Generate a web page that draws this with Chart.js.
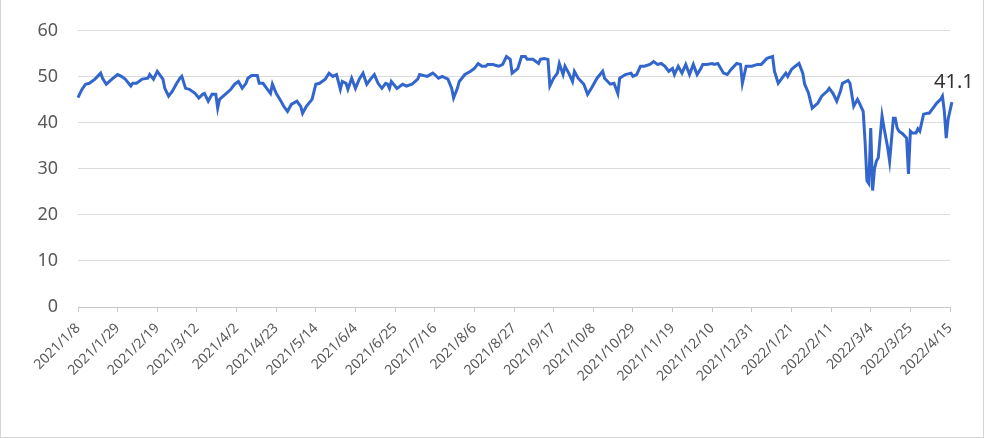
<!DOCTYPE html>
<html>
<head>
<meta charset="utf-8">
<script src="https://cdn.jsdelivr.net/npm/chart.js@4.4.1/dist/chart.umd.min.js"></script>
<style>
  html, body { margin: 0; padding: 0; background: #fff; }
  #wrap { position: relative; width: 984px; height: 438px; }
  #frame { position: absolute; left: 0; top: 0; width: 984px; height: 438px; box-sizing: border-box;
           border: 1px solid #d4d4d4; border-top: none; pointer-events: none; }
</style>
</head>
<body>
<div id="wrap">
  <canvas id="chart" width="984" height="438"></canvas>
  <div id="frame"></div>
</div>
<script>
// x tick labels, one every 3 weeks
const tickLabels = ["2021/1/8", "2021/1/29", "2021/2/19", "2021/3/12", "2021/4/2", "2021/4/23",
    "2021/5/14", "2021/6/4", "2021/6/25", "2021/7/16", "2021/8/6", "2021/8/27", "2021/9/17",
    "2021/10/8", "2021/10/29", "2021/11/19", "2021/12/10", "2021/12/31", "2022/1/21",
    "2022/2/11", "2022/3/4", "2022/3/25", "2022/4/15"];
const tickStep = 21; // days between labels

// days since 2021/1/8
const days = [0, 2, 4, 6, 9, 12, 13, 15, 18, 21, 23, 25, 28, 29, 31, 34, 37, 38, 40, 42, 45, 46, 48, 50,
    52, 54, 55, 57, 59, 62, 64, 66, 67, 69, 71, 73, 74, 75, 78, 81, 83, 85, 87, 89, 90, 92, 95, 96, 98,
    100, 102, 103, 105, 107, 109, 111, 113, 116, 118, 119, 121, 124, 126, 128, 131, 133, 135, 137, 139,
    140, 142, 143, 145, 147, 149, 151, 153, 155, 157, 159, 161, 163, 164, 165, 166, 169, 172, 174, 177,
    180, 181, 185, 188, 189, 191, 193, 196, 198, 199, 201, 202, 205, 208, 210, 212, 214, 216, 217, 220,
    221, 223, 225, 227, 229, 230, 233, 235, 237, 238, 241, 244, 245, 247, 249, 250, 252, 254, 255, 257,
    258, 260, 262, 263, 265, 268, 270, 272, 275, 278, 279, 282, 284, 286, 287, 290, 293, 294, 296, 298,
    300, 303, 305, 307, 309, 311, 313, 315, 316, 318, 320, 322, 324, 326, 328, 330, 331, 333, 336, 337,
    339, 342, 344, 346, 349, 351, 352, 354, 357, 360, 362, 365, 368, 369, 371, 373, 375, 376, 378, 380,
    382, 384, 385, 387, 389, 392, 394, 397, 398, 400, 402, 404, 405, 408, 409, 411, 413, 414, 416, 417,
    418, 419, 420, 421, 422, 423, 424, 426, 427, 429, 430, 432, 433, 434, 435, 437, 439, 440, 441, 442,
    444, 445, 446, 448, 450, 451, 453, 455, 457, 458, 459, 460, 461, 463];

const values = [45.5, 47.2, 48.4, 48.6, 49.5, 50.8, 49.7, 48.4, 49.5, 50.5, 50.1, 49.5, 48.0, 48.6, 48.6,
    49.5, 49.7, 50.5, 49.5, 51.2, 49.5, 47.5, 45.8, 46.9,
    48.4, 49.7, 50.1, 47.5, 47.3, 46.4, 45.4, 46.2, 46.4, 44.7, 46.2, 46.2, 43.2, 45.1, 46.2, 47.3, 48.4,
    49.0, 47.5, 48.6, 49.7, 50.3, 50.3, 48.6, 48.6,
    47.5, 46.4, 48.4, 46.4, 45.1, 43.6, 42.5, 44.0, 44.7, 43.6, 42.1, 43.6, 45.1, 48.4, 48.6, 49.5, 50.8,
    50.1, 50.5, 47.3,
    49.0, 48.6, 47.3, 49.7, 47.5, 49.5, 50.8, 48.4, 49.5, 50.5, 48.6, 47.5, 48.6, 48.4, 47.5, 49.0, 47.5,
    48.4, 48.0, 48.4,
    49.5, 50.5, 50.1, 50.8, 50.5, 49.7, 50.1, 49.5, 47.5, 45.4, 47.5, 49.0, 50.5, 51.2, 51.8, 52.9, 52.3,
    52.3, 52.7, 52.7,
    52.5, 52.3, 52.7, 54.4, 53.8, 50.8, 51.8, 54.4, 54.4, 53.8, 53.8, 52.9, 53.8, 54.0, 53.8, 48.0, 49.7,
    50.8, 52.9, 50.5,
    52.3, 50.8, 49.0, 51.2, 49.7, 48.4, 46.2, 47.5, 49.7, 51.2, 49.7, 48.4, 48.6, 46.4, 49.7, 50.5, 50.8,
    50.1, 50.5, 52.3,
    52.3, 52.7, 53.3, 52.7, 52.9, 52.3, 51.2, 51.8, 50.5, 52.3, 50.8, 52.7, 50.5, 52.7, 50.5, 51.8, 52.7,
    52.7, 52.9, 52.7,
    52.9, 50.8, 50.5, 51.6, 52.9, 52.7, 48.6, 52.3, 52.3, 52.7, 52.7, 54.0, 54.4, 51.2, 48.6, 49.7, 50.8,
    50.1, 51.6, 52.3,
    52.9, 50.8, 48.4, 46.5, 43.2, 44.3, 45.8, 46.9, 47.5, 46.4, 44.7, 46.9, 48.6, 49.2, 48.6, 43.6, 45.1,
    44.3, 42.5, 36.0,
    27.4, 26.8, 38.9, 25.3, 30.0, 31.7, 32.4, 41.5, 39.0, 34.6, 31.7, 41.0, 41.0, 38.9, 38.2, 37.6, 36.7,
    28.9, 38.2, 37.8,
    37.8, 38.7, 38.2, 41.9, 42.1, 42.1, 43.2, 44.3, 45.1, 45.8, 42.5, 36.7, 40.8, 44.5];

const endLabel = "41.1";

const points = days.map((d, i) => ({ x: d, y: values[i] }));

const endLabelPlugin = {
    id: "endLabel",
    afterDatasetsDraw(chart) {
        const ctx = chart.ctx;
        const xs = chart.scales.x, ys = chart.scales.y;
        const x = xs.getPixelForValue(days[days.length - 1]);
        const y = ys.getPixelForValue(values[values.length - 1]);
        ctx.save();
        ctx.font = "20px 'Noto Sans'";
        ctx.fillStyle = "#333333";
        ctx.textAlign = "center";
        ctx.textBaseline = "bottom";
        ctx.fillText(endLabel, x + 2, y - 10);
        ctx.restore();
    }
};

new Chart(document.getElementById("chart"), {
    type: "line",
    data: {
        datasets: [{
            data: points,
            borderColor: "#3366cc",
            borderWidth: 3,
            pointRadius: 0,
            tension: 0,
            fill: false,
            clip: false
        }]
    },
    options: {
        responsive: false,
        animation: false,
        layout: { padding: { top: 29, right: 34, left: 0, bottom: 0 } },
        plugins: { legend: { display: false }, tooltip: { enabled: false } },
        scales: {
            x: {
                type: "linear",
                min: 0,
                max: (tickLabels.length - 1) * tickStep,
                afterBuildTicks(axis) {
                    axis.ticks = tickLabels.map((_, i) => ({ value: i * tickStep }));
                },
                afterFit(scale) { scale.height = 131; },
                grid: { drawOnChartArea: false, drawTicks: true, tickLength: 5, color: "#c8c8c8" },
                border: { display: true, color: "#c8c8c8" },
                ticks: {
                    autoSkip: false,
                    maxRotation: 45,
                    minRotation: 45,
                    padding: 8,
                    color: "#595959",
                    font: { family: "'Noto Sans'", size: 14 },
                    callback: (v) => tickLabels[Math.round(v / tickStep)]
                }
            },
            y: {
                min: 0,
                max: 60,
                afterFit(scale) { scale.width = 78; },
                grid: { color: "#dcdcdc", drawTicks: false },
                border: { display: false },
                ticks: {
                    stepSize: 10,
                    padding: 20,
                    color: "#595959",
                    font: { family: "'Noto Sans'", size: 18 }
                }
            }
        }
    },
    plugins: [endLabelPlugin]
});
</script>
</body>
</html>
